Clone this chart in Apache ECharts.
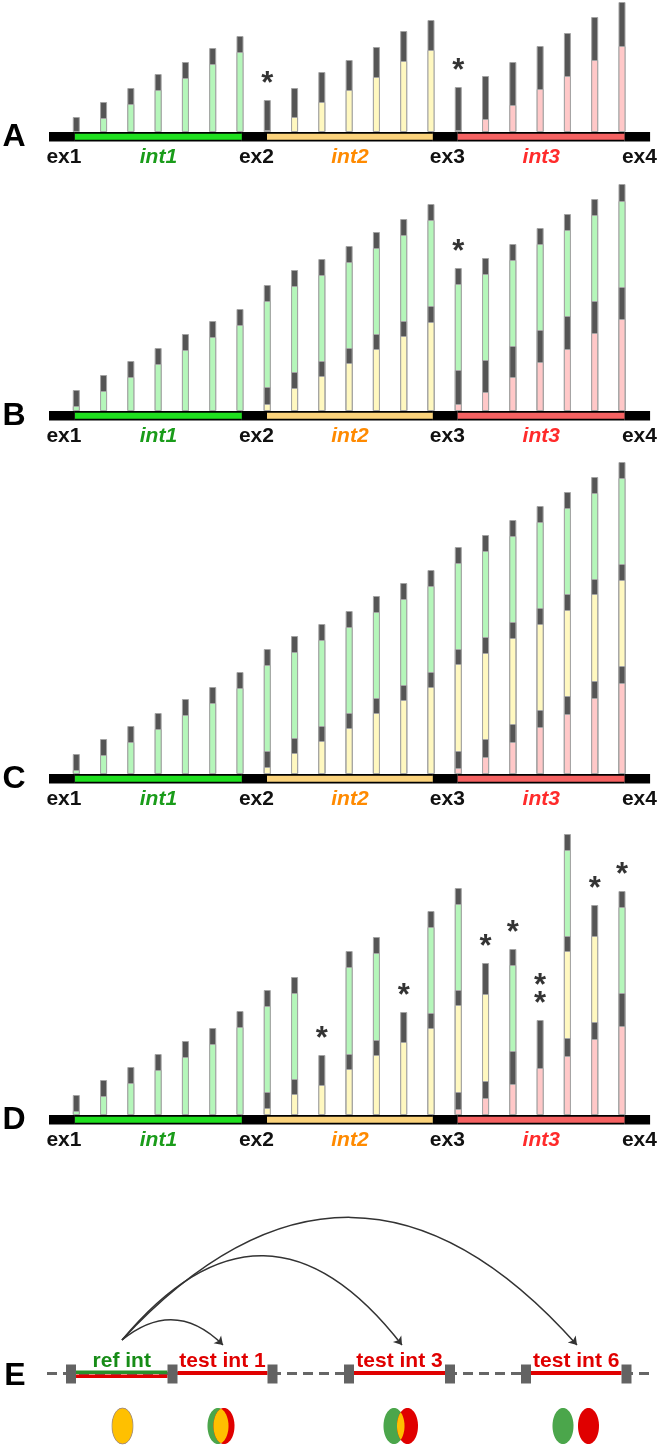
<!DOCTYPE html>
<html lang="en">
<head>
<meta charset="UTF-8">
<title>Intron read coverage</title>
<script src="https://cdn.jsdelivr.net/npm/echarts@6.0.0/dist/echarts.min.js"></script>
<style>html,body{margin:0;padding:0;background:#fff;}</style>
</head>
<body>
<div id="main" style="width:662px;height:1448px"></div>
<script>
// bar positions along the gene, 7 per intron
var barPos = [1, 2, 3, 4, 5, 6, 7, 8, 9, 10, 11, 12, 13, 14, 15, 16, 17, 18, 19, 20, 21];

// gene model (same x units as the bars)
var partStart = [0, 0.95, 7.07, 7.99, 14.07, 14.98, 21.1];
var partEnd = [0.95, 7.07, 7.99, 14.07, 14.98, 21.1, 22.03];
var partName = ['ex1', 'int1', 'ex2', 'int2', 'ex3', 'int3', 'ex4'];
var partKind = [0, 1, 0, 2, 0, 3, 0];

// panel A: segment heights, bottom to top
var aPink   = [0, 0, 0, 0, 0, 0, 0, 0, 0, 0, 0, 0, 0, 0, 2, 13, 27, 43, 56, 72, 86];
var aGreyP  = [0, 0, 0, 0, 0, 0, 0, 0, 0, 0, 0, 0, 0, 0, 43, 43, 43, 43, 43, 43, 44];
var aYellow = [0, 0, 0, 0, 0, 0, 0, 2, 15, 30, 42, 55, 71, 82, 0, 0, 0, 0, 0, 0, 0];
var aGreyY  = [0, 0, 0, 0, 0, 0, 0, 30, 29, 30, 30, 30, 30, 30, 0, 0, 0, 0, 0, 0, 0];
var aGreen  = [0, 14, 28, 42, 54, 68, 80, 0, 0, 0, 0, 0, 0, 0, 0, 0, 0, 0, 0, 0, 0];
var aGreyG  = [15, 16, 16, 16, 16, 16, 16, 0, 0, 0, 0, 0, 0, 0, 0, 0, 0, 0, 0, 0, 0];
var aStars  = [[8, 1], [15, 1]];

// panel B
var bPink   = [0, 0, 0, 0, 0, 0, 0, 0, 0, 0, 0, 0, 0, 0, 7, 19, 34, 49, 62, 78, 92];
var bGreyP  = [0, 0, 0, 0, 0, 0, 0, 0, 0, 0, 0, 0, 0, 0, 34, 32, 31, 32, 33, 32, 32];
var bYellow = [0, 0, 0, 0, 0, 0, 0, 7, 23, 35, 48, 62, 75, 89, 0, 0, 0, 0, 0, 0, 0];
var bGreyY  = [0, 0, 0, 0, 0, 0, 0, 17, 16, 15, 15, 15, 15, 16, 0, 0, 0, 0, 0, 0, 0];
var bGreen  = [5, 20, 34, 47, 61, 74, 86, 86, 86, 86, 86, 86, 86, 86, 86, 86, 86, 86, 86, 86, 86];
var bGreyG  = [16, 16, 16, 16, 16, 16, 16, 16, 16, 16, 16, 16, 16, 16, 16, 16, 16, 16, 16, 16, 17];
var bStars  = [[15, 1]];

// panel C
var cPink   = [0, 0, 0, 0, 0, 0, 0, 0, 0, 0, 0, 0, 0, 0, 6, 17, 32, 47, 60, 76, 91];
var cGreyP  = [0, 0, 0, 0, 0, 0, 0, 0, 0, 0, 0, 0, 0, 0, 17, 18, 18, 17, 18, 17, 17];
var cYellow = [0, 0, 0, 0, 0, 0, 0, 7, 21, 33, 46, 61, 74, 87, 87, 86, 86, 86, 86, 87, 86];
var cGreyY  = [0, 0, 0, 0, 0, 0, 0, 16, 15, 15, 15, 15, 15, 15, 15, 16, 16, 16, 16, 15, 16];
var cGreen  = [4, 19, 32, 45, 59, 71, 86, 86, 86, 86, 86, 86, 86, 86, 86, 86, 86, 86, 86, 86, 86];
var cGreyG  = [16, 16, 16, 16, 16, 16, 16, 16, 16, 16, 16, 16, 16, 16, 16, 16, 16, 16, 16, 16, 16];
var cStars  = [];

// panel D
var dPink   = [0, 0, 0, 0, 0, 0, 0, 0, 0, 0, 0, 0, 0, 0, 6, 17, 31, 47, 59, 76, 89];
var dGreyP  = [0, 0, 0, 0, 0, 0, 0, 0, 0, 0, 0, 0, 0, 0, 17, 17, 33, 48, 18, 17, 33];
var dYellow = [0, 0, 0, 0, 0, 0, 0, 7, 21, 30, 46, 60, 73, 87, 87, 87, 0, 0, 87, 86, 0];
var dGreyY  = [0, 0, 0, 0, 0, 0, 0, 16, 15, 30, 15, 15, 30, 15, 15, 31, 0, 0, 15, 31, 0];
var dGreen  = [4, 19, 32, 45, 58, 71, 88, 86, 86, 0, 87, 87, 0, 86, 86, 0, 86, 0, 86, 0, 86];
var dGreyG  = [16, 16, 16, 16, 16, 16, 16, 16, 16, 0, 16, 16, 0, 16, 16, 0, 16, 0, 16, 0, 16];
var dStars  = [[10, 1], [13, 1], [16, 1], [17, 1], [18, 2], [20, 1], [21, 1]];

// panel E schematic
var eExonX = [71, 172.5, 272.5, 349, 450, 526, 626.5];
var eIntronFrom = [76, 177.5, 354, 531];
var eIntronTo = [167.5, 267.5, 445, 621.5];
var eIntronName = ['ref int', 'test int 1', 'test int 3', 'test int 6'];
var eArcFrom = [122, 140];
var eArcTo = [[223, 145], [402, 145], [577, 145]];
var eArcBend = [0.45, 0.62, 0.55];
var ovalGreenX = [122.5, 218, 394, 563];
var ovalRedX = [122.5, 224, 407.5, 588.5];

var FONT = '"Liberation Sans", Arial, sans-serif';
var GREY = '#555555';
var layerColor = ['#ffc8c8', GREY, '#fff8c0', GREY, '#b5f6ba', GREY];
var stripColor = [null, '#1fe01f', '#fbd37c', '#f56262'];
var labelColor = ['#111111', '#1a9c1a', '#ff8a00', '#ff2b2b'];

var panels = [
    {letter: 'A', base: 132, h: 132, layers: [aPink, aGreyP, aYellow, aGreyY, aGreen, aGreyG], stars: aStars},
    {letter: 'B', base: 411, h: 240, layers: [bPink, bGreyP, bYellow, bGreyY, bGreen, bGreyG], stars: bStars},
    {letter: 'C', base: 774, h: 330, layers: [cPink, cGreyP, cYellow, cGreyY, cGreen, cGreyG], stars: cStars},
    {letter: 'D', base: 1115, h: 300, layers: [dPink, dGreyP, dYellow, dGreyY, dGreen, dGreyG], stars: dStars}
];

function txt(text, x, y, font, fill) {
    return {text: text, x: x, y: y, font: font, fill: fill,
        align: 'center', verticalAlign: 'middle', textAlign: 'center', textVerticalAlign: 'middle'};
}

// gene line under each panel, with exon / intron names
function geneItem(params, api) {
    var s = api.coord([api.value(0), 0]);
    var e = api.coord([api.value(1), 0]);
    var kind = api.value(2);
    var y = s[1];
    var kids = [{type: 'rect', shape: {x: s[0], y: y, width: e[0] - s[0], height: 9.5}, style: {fill: '#000'}}];
    if (kind) {
        kids.push({type: 'rect', shape: {x: s[0], y: y + 1.8, width: e[0] - s[0], height: 6}, style: {fill: stripColor[kind]}});
    }
    kids.push({type: 'text', style: txt(partName[api.value(3)], (s[0] + e[0]) / 2 + (kind ? 0 : 2), y + 25,
        (kind ? 'italic ' : '') + 'bold 21px ' + FONT, labelColor[kind])});
    return {type: 'group', children: kids};
}

var grid = [], xAxis = [], yAxis = [], series = [], graphic = [];

panels.forEach(function (p, k) {
    grid.push({left: 49, width: 603, top: p.base - p.h, height: p.h});
    xAxis.push({gridIndex: k, type: 'value', min: 0, max: 22.1, show: false});
    yAxis.push({gridIndex: k, type: 'value', min: 0, max: p.h, show: false});

    // running sums so each layer is a bar from 0 to its top; drawn top layer first
    var cum = p.layers.map(function () { return []; });
    barPos.forEach(function (_, i) {
        var s = 0;
        p.layers.forEach(function (arr, L) { s += arr[i]; cum[L][i] = s; });
    });
    for (var L = p.layers.length - 1; L >= 0; L--) {
        (function (L) {
            series.push({
                type: 'bar', xAxisIndex: k, yAxisIndex: k, barWidth: 7, barGap: '-100%',
                itemStyle: {color: layerColor[L], borderColor: '#a3a3a3', borderWidth: 1},
                data: cum[L].map(function (v, i) {
                    return p.layers[L][i] ? {value: [barPos[i], v]} : {value: [barPos[i], v], itemStyle: {opacity: 0}};
                })
            });
        })(L);
    }

    var totals = cum[cum.length - 1];
    var starPts = [];
    p.stars.forEach(function (st) {
        for (var j = 0; j < st[1]; j++) starPts.push([barPos[st[0] - 1], totals[st[0] - 1] + 16 + 18 * j]);
    });
    series.push({
        type: 'scatter', xAxisIndex: k, yAxisIndex: k, symbolSize: 1, clip: false,
        itemStyle: {color: 'rgba(0,0,0,0)'},
        label: {show: true, position: 'inside', formatter: '*', fontSize: 31, fontWeight: 'bold', color: '#000', fontFamily: FONT},
        data: starPts
    });

    series.push({
        type: 'custom', xAxisIndex: k, yAxisIndex: k, clip: false,
        data: partName.map(function (n, i) { return [partStart[i], partEnd[i], partKind[i], i]; }),
        renderItem: geneItem
    });

    graphic.push({type: 'text', style: txt(p.letter, 14, p.base + 5, 'bold 32px ' + FONT, '#000')});
});

// panel E
grid.push({left: 0, width: 662, top: 1200, height: 248});
xAxis.push({gridIndex: 4, type: 'value', min: 0, max: 662, show: false});
yAxis.push({gridIndex: 4, type: 'value', min: 0, max: 248, inverse: true, show: false});
graphic.push({type: 'text', style: txt('E', 15, 1376, 'bold 32px ' + FONT, '#000')});

series.push({
    type: 'line', xAxisIndex: 4, yAxisIndex: 4, symbol: 'none', z: 1,
    lineStyle: {color: '#666', width: 3, type: [10, 6]},
    data: [[47, 173.5], [652, 173.5]]
});

series.push({
    type: 'custom', xAxisIndex: 4, yAxisIndex: 4, clip: false, z: 5,
    data: eIntronFrom.map(function (f, i) { return [f, eIntronTo[i], i]; }),
    renderItem: function (params, api) {
        var a = api.coord([api.value(0), 173]);
        var b = api.coord([api.value(1), 173]);
        var i = api.value(2);
        var kids = [];
        if (i === 0) {
            kids.push({type: 'rect', shape: {x: a[0], y: a[1] - 2.5, width: b[0] - a[0], height: 3.4}, style: {fill: '#2a8f2a'}});
            kids.push({type: 'rect', shape: {x: a[0], y: a[1] + 1.5, width: b[0] - a[0], height: 3.6}, style: {fill: '#e00000'}});
        } else {
            kids.push({type: 'rect', shape: {x: a[0], y: a[1] - 2, width: b[0] - a[0], height: 4}, style: {fill: '#e00000'}});
        }
        kids.push({type: 'text', style: txt(eIntronName[i], (a[0] + b[0]) / 2, a[1] - 12,
            'bold 21px ' + FONT, i === 0 ? '#178c17' : '#e00000')});
        return {type: 'group', children: kids};
    }
});

series.push({
    type: 'custom', xAxisIndex: 4, yAxisIndex: 4, clip: false, z: 6,
    data: eExonX.map(function (x) { return [x]; }),
    renderItem: function (params, api) {
        var c = api.coord([api.value(0), 174]);
        return {type: 'rect', shape: {x: c[0] - 5, y: c[1] - 9.5, width: 10, height: 19}, style: {fill: '#636363'}};
    }
});

series.push({
    type: 'lines', coordinateSystem: 'cartesian2d', xAxisIndex: 4, yAxisIndex: 4,
    symbol: ['none', 'arrow'], symbolSize: 8,
    lineStyle: {color: '#333', width: 1.5, opacity: 1},
    data: eArcTo.map(function (t, i) {
        return {coords: [eArcFrom, t], lineStyle: {curveness: eArcBend[i]}};
    })
});

// ellipse outline as polygon points
function ellipsePts(cx, cy, a, b) {
    var pts = [];
    for (var i = 0; i < 64; i++) {
        var t = i / 64 * Math.PI * 2;
        pts.push([cx + a * Math.cos(t), cy + b * Math.sin(t)]);
    }
    return pts;
}

series.push({
    type: 'custom', xAxisIndex: 4, yAxisIndex: 4, clip: false,
    data: ovalGreenX.map(function (g, i) { return [g, ovalRedX[i]]; }),
    renderItem: function (params, api) {
        var g = api.coord([api.value(0), 226]);
        var r = api.coord([api.value(1), 226]);
        var a = 10.5, b = 18;
        var lensR = [], lensL = [];
        for (var j = 0; j <= 40; j++) {
            var yy = -b + 2 * b * j / 40;
            var w = a * Math.sqrt(Math.max(0, 1 - (yy / b) * (yy / b)));
            var right = g[0] + w, left = r[0] - w;
            if (left <= right) {
                lensR.push([right, g[1] + yy]);
                lensL.unshift([left, g[1] + yy]);
            }
        }
        return {type: 'group', children: [
            {type: 'polygon', shape: {points: ellipsePts(g[0], g[1], a, b)}, style: {fill: '#4ba64b'}},
            {type: 'polygon', shape: {points: ellipsePts(r[0], r[1], a, b)}, style: {fill: '#e00000'}},
            {type: 'polygon', shape: {points: lensR.concat(lensL)}, style: {fill: '#ffc000',
                stroke: g[0] === r[0] ? '#9a9a9a' : null, lineWidth: 0.8}}
        ]};
    }
});

var chart = echarts.init(document.getElementById('main'));
chart.setOption({
    animation: false,
    backgroundColor: '#fff',
    grid: grid,
    xAxis: xAxis,
    yAxis: yAxis,
    graphic: graphic,
    series: series
});
</script>
</body>
</html>
